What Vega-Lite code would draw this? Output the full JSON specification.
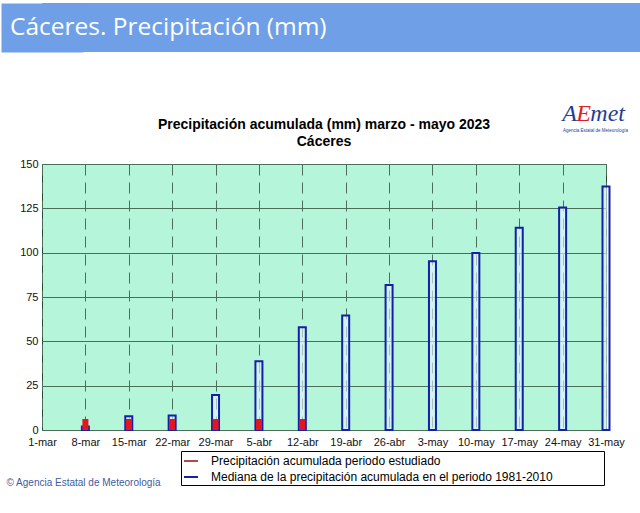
{
  "$schema": "https://vega.github.io/schema/vega-lite/v6.json",
  "background": "white",
  "padding": {"left": 0, "top": 3, "right": 0, "bottom": 0},
  "spacing": 49,
  "columns": 1,
  "align": "none",
  "config": {"font": "Liberation Sans", "view": {"stroke": null}},
  "datasets": {
    "semanas": [
      {"fecha": "1-mar", "mediana": null, "acumulada": null},
      {"fecha": "8-mar", "mediana": 2, "acumulada": 6.2},
      {"fecha": "15-mar", "mediana": 7.7, "acumulada": 6.2},
      {"fecha": "22-mar", "mediana": 8.2, "acumulada": 6.2},
      {"fecha": "29-mar", "mediana": 19.7, "acumulada": 6.2},
      {"fecha": "5-abr", "mediana": 38.8, "acumulada": 6.2},
      {"fecha": "12-abr", "mediana": 58, "acumulada": 6.2},
      {"fecha": "19-abr", "mediana": 64.6, "acumulada": null},
      {"fecha": "26-abr", "mediana": 81.8, "acumulada": null},
      {"fecha": "3-may", "mediana": 95.1, "acumulada": null},
      {"fecha": "10-may", "mediana": 99.8, "acumulada": null},
      {"fecha": "17-may", "mediana": 114, "acumulada": null},
      {"fecha": "24-may", "mediana": 125.5, "acumulada": null},
      {"fecha": "31-may", "mediana": 137.3, "acumulada": null}
    ],
    "logo": [{"a": "A", "e": "E", "met": "met", "agencia": "Agencia Estatal de Meteorología"}]
  },
  "concat": [
    {
      "width": 599,
      "height": 49,
      "view": {"fill": "#6f9fe6", "stroke": null},
      "data": {"values": [{"cabecera": "Cáceres. Precipitación (mm)"}]},
      "mark": {"type": "text", "align": "left", "baseline": "middle", "font": "Open Sans", "fontSize": 24.5, "color": "white", "dx": -32},
      "encoding": {
        "text": {"field": "cabecera"},
        "x": {"datum": 0, "type": "quantitative", "scale": {"domain": [0, 1]}, "axis": null},
        "y": {
          "datum": 0.5,
          "type": "quantitative",
          "scale": {"domain": [0, 1]},
          "axis": {"domain": true, "domainColor": "#6f9fe6", "domainWidth": 82, "labels": false, "ticks": false, "grid": false, "title": null}
        }
      }
    },
    {
      "width": 564,
      "height": 266,
      "view": {"fill": "#b5f5da", "stroke": "#2c4636", "strokeWidth": 1},
      "title": {
        "text": ["Precipitación acumulada (mm) marzo - mayo 2023", "Cáceres"],
        "font": "Liberation Sans",
        "fontSize": 14,
        "fontWeight": "bold",
        "color": "black",
        "lineHeight": 17,
        "anchor": "middle",
        "offset": -47
      },
      "layer": [
        {
          "data": {"name": "semanas"},
          "mark": {"type": "bar", "width": 7, "fill": "#e4f4ff", "fillOpacity": 0.6, "strokeWidth": 0},
          "encoding": {
            "x": {
              "field": "fecha",
              "type": "ordinal",
              "sort": null,
              "scale": {"type": "point", "padding": 0, "domain": ["1-mar", "8-mar", "15-mar", "22-mar", "29-mar", "5-abr", "12-abr", "19-abr", "26-abr", "3-may", "10-may", "17-may", "24-may", "31-may"]},
              "axis": {
                "labelAngle": 0,
                "labelFont": "Liberation Sans",
                "labelFontSize": 11,
                "labelColor": "#111111",
                "labelPadding": 6,
                "ticks": false,
                "domain": false,
                "grid": true,
                "gridColor": "#4a6e58",
                "gridDash": [11, 7],
                "gridWidth": 1,
                "title": "© Agencia Estatal de Meteorología",
                "titleX": -36,
                "titleY": 52,
                "titleAlign": "left",
                "titleBaseline": "middle",
                "titleFont": "Liberation Sans",
                "titleFontSize": 10,
                "titleFontWeight": "normal",
                "titleColor": "#3d5c9e"
              }
            },
            "y": {
              "field": "mediana",
              "type": "quantitative",
              "scale": {"domain": [0, 150], "nice": false},
              "axis": {
                "values": [0, 25, 50, 75, 100, 125, 150],
                "labelFont": "Liberation Sans",
                "labelFontSize": 11,
                "labelColor": "#111111",
                "labelPadding": 4,
                "ticks": false,
                "domain": false,
                "grid": true,
                "gridColor": "#4a6e58",
                "gridWidth": 1,
                "minExtent": 41,
                "title": null
              }
            }
          }
        },
        {
          "data": {"name": "semanas"},
          "mark": {"type": "bar", "width": 7, "filled": false, "strokeWidth": 2},
          "encoding": {
            "x": {"field": "fecha", "type": "ordinal", "sort": null},
            "y": {"field": "mediana", "type": "quantitative"},
            "stroke": {
              "datum": "Mediana de la precipitación acumulada en el periodo 1981-2010",
              "scale": {
                "domain": ["Precipitación acumulada periodo estudiado", "Mediana de la precipitación acumulada en el periodo 1981-2010"],
                "range": ["#b8474a", "#1420a8"]
              },
              "legend": {
                "orient": "none",
                "legendX": 139,
                "legendY": 448,
                "title": null,
                "symbolType": "stroke",
                "symbolSize": 196,
                "symbolStrokeWidth": 2,
                "strokeColor": "black",
                "fillColor": "white",
                "padding": 2,
                "labelFont": "Liberation Sans",
                "labelFontSize": 12,
                "labelColor": "black",
                "labelOffset": 12,
                "rowPadding": 2,
                "labelLimit": 600,
                "labelExpr": "datum.label + '\u00a0\u00a0\u00a0\u00a0\u00a0\u00a0\u00a0\u00a0\u00a0\u00a0\u00a0\u00a0\u2800'"
              }
            }
          }
        },
        {
          "data": {"name": "semanas"},
          "mark": {"type": "bar", "width": 6, "fill": "#e3161f", "strokeWidth": 0},
          "encoding": {
            "x": {"field": "fecha", "type": "ordinal", "sort": null},
            "y": {"field": "acumulada", "type": "quantitative"},
            "stroke": {"datum": "Precipitación acumulada periodo estudiado"}
          }
        },
        {
          "data": {"name": "logo"},
          "mark": {"type": "text", "align": "right", "baseline": "alphabetic", "font": "Liberation Serif", "fontStyle": "italic", "fontSize": 24, "color": "#1c3f94", "dx": 19},
          "encoding": {
            "text": {"field": "met"},
            "x": {"datum": "31-may", "type": "ordinal"},
            "y": {"datum": 174, "type": "quantitative"}
          }
        },
        {
          "data": {"name": "logo"},
          "mark": {"type": "text", "align": "right", "baseline": "alphabetic", "font": "Liberation Serif", "fontStyle": "italic", "fontSize": 24, "color": "#e02020", "dx": -15},
          "encoding": {
            "text": {"field": "e"},
            "x": {"datum": "31-may", "type": "ordinal"},
            "y": {"datum": 174, "type": "quantitative"}
          }
        },
        {
          "data": {"name": "logo"},
          "mark": {"type": "text", "align": "right", "baseline": "alphabetic", "font": "Liberation Serif", "fontStyle": "italic", "fontSize": 24, "color": "#1c3f94", "dx": -29},
          "encoding": {
            "text": {"field": "a"},
            "x": {"datum": "31-may", "type": "ordinal"},
            "y": {"datum": 174, "type": "quantitative"}
          }
        },
        {
          "data": {"name": "logo"},
          "mark": {"type": "text", "align": "right", "baseline": "alphabetic", "font": "Liberation Sans", "fontSize": 4.5, "color": "#1c3f94", "dx": 22},
          "encoding": {
            "text": {"field": "agencia"},
            "x": {"datum": "31-may", "type": "ordinal"},
            "y": {"datum": 168, "type": "quantitative"}
          }
        }
      ]
    }
  ]
}
